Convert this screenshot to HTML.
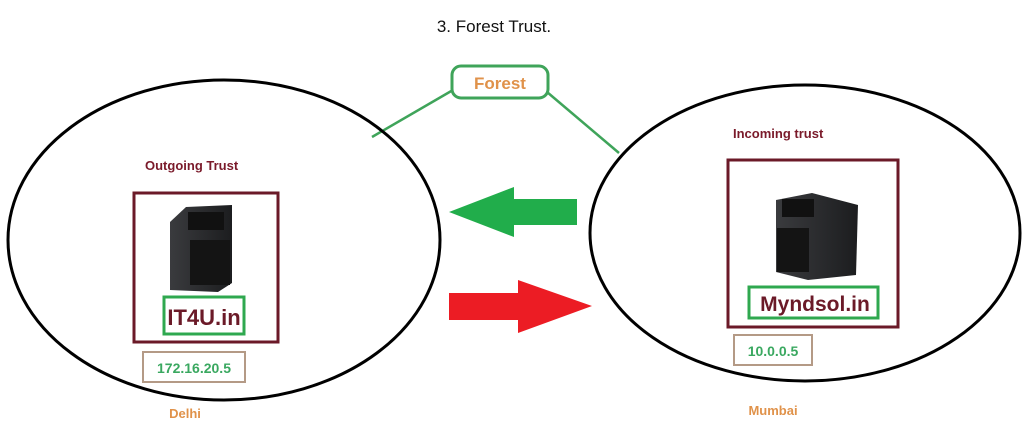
<!DOCTYPE html>
<html><head><meta charset="utf-8"><style>
html,body{margin:0;padding:0;background:#fff;width:1024px;height:425px;overflow:hidden}
svg{display:block}
text{font-family:"Liberation Sans",sans-serif}
</style></head><body>
<svg width="1024" height="425" viewBox="0 0 1024 425">
<defs>
<linearGradient id="sv" x1="0" x2="1"><stop offset="0" stop-color="#3a3b3e"/><stop offset="1" stop-color="#1c1d1f"/></linearGradient>
</defs>
<text x="494" y="32" font-size="17" text-anchor="middle" fill="#111">3. Forest Trust.</text>
<!-- forest -->
<line x1="453" y1="90" x2="372" y2="137" stroke="#3fa45a" stroke-width="2.5"/>
<line x1="547" y1="92" x2="619" y2="153" stroke="#3fa45a" stroke-width="2.5"/>
<rect x="452" y="66" width="96" height="32" rx="9" fill="#fff" stroke="#3fa45a" stroke-width="3"/>
<text x="500" y="89" font-size="17" font-weight="bold" text-anchor="middle" fill="#e0924a">Forest</text>
<!-- ellipses -->
<ellipse cx="224" cy="240" rx="216" ry="160" fill="none" stroke="#000" stroke-width="3"/>
<ellipse cx="805" cy="233" rx="215" ry="148" fill="none" stroke="#000" stroke-width="3"/>
<!-- arrows -->
<polygon points="449,212 514,187 514,199 577,199 577,225 514,225 514,237" fill="#21ad4b"/>
<polygon points="449,293 518,293 518,280 592,306 518,333 518,320 449,320" fill="#ec1c24"/>
<!-- left -->
<text x="145" y="170" font-size="13" font-weight="bold" fill="#7a1a2a">Outgoing Trust</text>
<rect x="134" y="193" width="144" height="149" fill="none" stroke="#6b1a28" stroke-width="3"/>
<polygon points="170,222 186,207 232,205 232,283 218,292 170,290" fill="url(#sv)"/>
<rect x="188" y="212" width="36" height="18" fill="#111"/>
<rect x="190" y="240" width="40" height="45" fill="#141414"/>
<rect x="164" y="297" width="80" height="37" fill="#fff" stroke="#2fa84f" stroke-width="3"/>
<text x="204" y="325" font-size="22" font-weight="bold" text-anchor="middle" fill="#6b1a28">IT4U.in</text>
<rect x="143" y="352" width="102" height="30" fill="#fff" stroke="#b49a86" stroke-width="2"/>
<text x="194" y="373" font-size="14" font-weight="bold" text-anchor="middle" fill="#3aa860">172.16.20.5</text>
<text x="185" y="418" font-size="13" font-weight="bold" text-anchor="middle" fill="#e0924a">Delhi</text>
<!-- right -->
<text x="733" y="138" font-size="13" font-weight="bold" fill="#7a1a2a">Incoming trust</text>
<rect x="728" y="160" width="170" height="167" fill="none" stroke="#6b1a28" stroke-width="3"/>
<polygon points="776,200 812,193 858,205 856,275 808,280 776,272" fill="url(#sv)"/>
<rect x="782" y="199" width="32" height="18" fill="#111"/>
<rect x="777" y="228" width="32" height="44" fill="#141414"/>
<rect x="749" y="287" width="129" height="31" fill="#fff" stroke="#2fa84f" stroke-width="3"/>
<text x="815" y="311" font-size="21" font-weight="bold" text-anchor="middle" fill="#6b1a28">Myndsol.in</text>
<rect x="734" y="335" width="78" height="30" fill="#fff" stroke="#b49a86" stroke-width="2"/>
<text x="773" y="356" font-size="14" font-weight="bold" text-anchor="middle" fill="#3aa860">10.0.0.5</text>
<text x="773" y="415" font-size="13" font-weight="bold" text-anchor="middle" fill="#e0924a">Mumbai</text>
</svg>
</body></html>
